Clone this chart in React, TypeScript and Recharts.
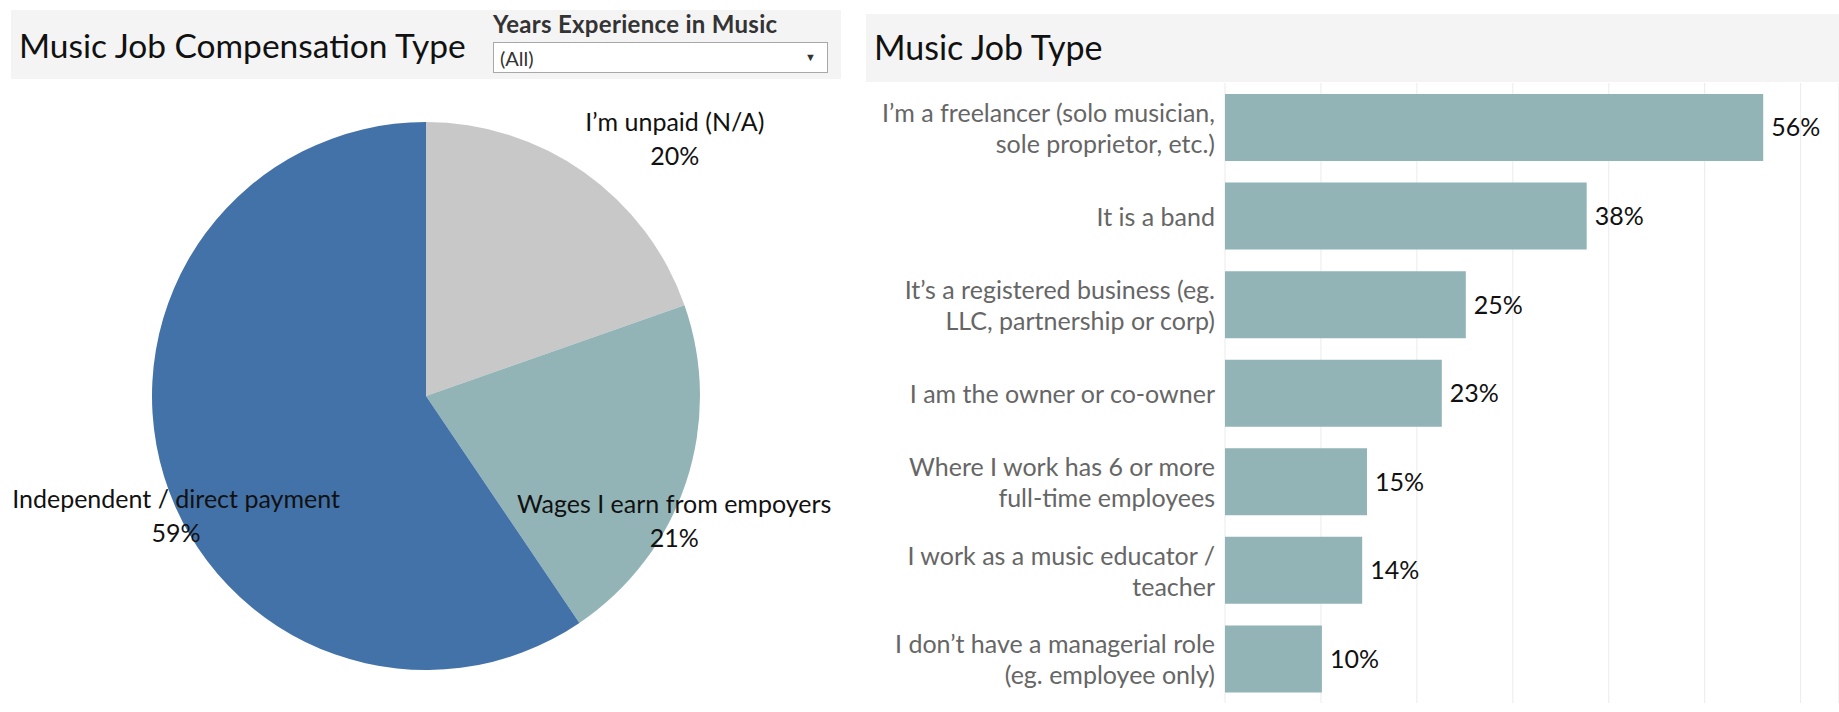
import React from "react";
import { PieChart, Pie, Cell, BarChart, Bar, XAxis, YAxis, CartesianGrid, LabelList } from "recharts";

// ---- data ----
const pieCategories = ["I’m unpaid (N/A)", "Wages I earn from empoyers", "Independent / direct payment"];
const pieValues = [19.6, 20.9, 59.4];

const jobTypes = [
  "I’m a freelancer (solo musician,\nsole proprietor, etc.)",
  "It is a band",
  "It’s a registered business (eg.\nLLC, partnership or corp)",
  "I am the owner or co-owner",
  "Where I work has 6 or more\nfull-time employees",
  "I work as a music educator /\nteacher",
  "I don’t have a managerial role\n(eg. employee only)",
];
const jobShares = [56.1, 37.7, 25.1, 22.6, 14.8, 14.3, 10.1];
const gridTicks = [0, 10, 20, 30, 40, 50, 60];

// ---- styles ----
const FONT = "Lato, 'Open Sans', sans-serif";
const pieColors = ["#c8c8c8", "#92b4b7", "#4372a8"];
const barColor = "#92b4b7";
// label placement relative to each slice (angle shift in degrees, radius factor)
const pieLabelPlacement = [
  { dAngle: -8.7, rFactor: 1.307 },
  { dAngle: -8.2, rFactor: 1.012 },
  { dAngle: 8.4, rFactor: 1.01 },
];

const pieData = pieCategories.map((name, i) => ({ name, value: pieValues[i] }));
const barData = jobTypes.map((name, i) => ({ name, value: jobShares[i] }));

const RAD = Math.PI / 180;

function PieLabel(props: any) {
  const { cx, cy, midAngle, outerRadius, index, name, value } = props;
  const pl = pieLabelPlacement[index];
  const a = (midAngle + pl.dAngle) * RAD;
  const r = outerRadius * pl.rFactor;
  const x = cx + r * Math.cos(a);
  const y = cy - r * Math.sin(a);
  return (
    <text x={x} y={y} textAnchor="middle" fill="#111" fontFamily={FONT} fontSize={25}>
      <tspan x={x} y={y - 17} dominantBaseline="central">{name}</tspan>
      <tspan x={x} y={y + 17} dominantBaseline="central">{`${Math.round(Number(value))}%`}</tspan>
    </text>
  );
}

function CategoryTick(props: any) {
  const { x, y, payload } = props;
  const lines: string[] = String(payload.value).split("\n");
  const lh = 31;
  const start = -((lines.length - 1) * lh) / 2;
  return (
    <text x={x} y={y} textAnchor="end" fill="#666" fontFamily={FONT} fontSize={25}>
      {lines.map((l, i) => (
        <tspan key={i} x={x} y={y + start + i * lh} dominantBaseline="central">
          {l}
        </tspan>
      ))}
    </text>
  );
}

export default function App() {
  return (
    <div style={{ position: "absolute", left: 0, top: 0, width: 1839, height: 712, background: "#fff", fontFamily: FONT, overflow: "hidden" }}>
      {/* left header */}
      <div style={{ position: "absolute", left: 11, top: 10, width: 830, height: 69, background: "#f4f4f4" }} />
      <div style={{ position: "absolute", left: 19, top: 24, fontSize: 33.5, lineHeight: "42px", color: "#111" }}>
        Music Job Compensation Type
      </div>
      <div style={{ position: "absolute", left: 493, top: 9, fontSize: 24, letterSpacing: 0.3, fontWeight: 700, lineHeight: "29px", color: "#333" }}>
        Years Experience in Music
      </div>
      <div style={{ position: "absolute", left: 493, top: 42, width: 333, height: 29, border: "1px solid #a8a8a8", background: "#fff" }}>
        <div style={{ position: "absolute", left: 6, top: 2, fontSize: 20, lineHeight: "26px", color: "#333" }}>(All)</div>
        <div style={{ position: "absolute", right: 11, top: 7, fontSize: 11, lineHeight: "14px", color: "#333" }}>▼</div>
      </div>

      {/* right header */}
      <div style={{ position: "absolute", left: 866, top: 14, width: 973, height: 68, background: "#f4f4f4" }} />
      <div style={{ position: "absolute", left: 874, top: 26, fontSize: 34, lineHeight: "42px", color: "#111" }}>
        Music Job Type
      </div>

      {/* pie */}
      <div style={{ position: "absolute", left: 0, top: 0 }}>
        <PieChart width={860} height={712} margin={{ top: 0, right: 0, bottom: 0, left: 0 }}>
          <Pie
            data={pieData}
            dataKey="value"
            nameKey="name"
            cx={426}
            cy={396}
            outerRadius={274}
            startAngle={90}
            endAngle={-270}
            stroke="none"
            isAnimationActive={false}
            labelLine={false}
            label={PieLabel}
          >
            {pieData.map((d, i) => (
              <Cell key={d.name} fill={pieColors[i]} />
            ))}
          </Pie>
        </PieChart>
      </div>

      {/* bars */}
      <div style={{ position: "absolute", left: 860, top: 0 }}>
        <BarChart
          width={979}
          height={712}
          data={barData}
          layout="vertical"
          margin={{ top: 83, right: 0, bottom: 9, left: 0 }}
          barSize={67}
        >
          <CartesianGrid horizontal={false} vertical stroke="#ebebeb" />
          <XAxis type="number" domain={[0, 64]} ticks={gridTicks} hide />
          <YAxis
            type="category"
            dataKey="name"
            width={365}
            axisLine={false}
            tickLine={false}
            tickSize={0}
            tickMargin={10}
            interval={0}
            tick={<CategoryTick />}
          />
          <Bar dataKey="value" fill={barColor} isAnimationActive={false}>
            <LabelList
              dataKey="value"
              position="right"
              offset={8}
              formatter={(v: any) => `${Math.round(Number(v))}%`}
              fill="#111"
              fontFamily={FONT}
              fontSize={25}
            />
          </Bar>
        </BarChart>
      </div>
    </div>
  );
}
